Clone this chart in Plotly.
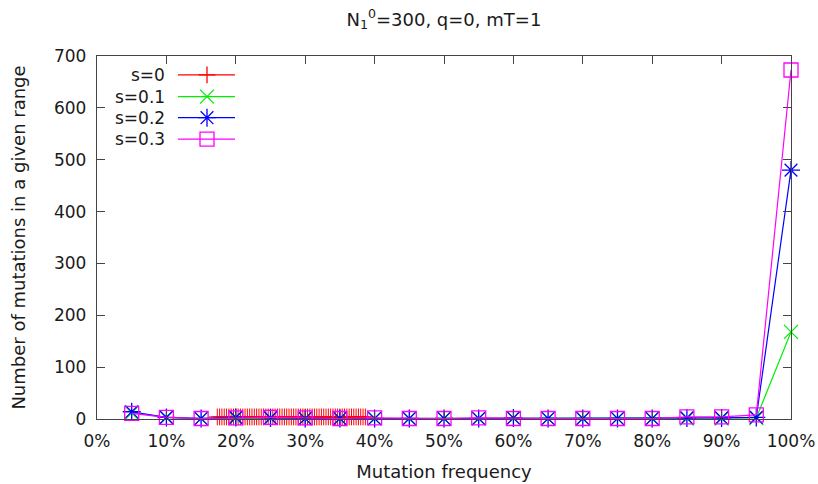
import plotly.graph_objects as go

# Mutation-frequency bins (percent) for the s>0 runs
freq_bins = [5, 10, 15, 20, 25, 30, 35, 40, 45, 50, 55, 60, 65, 70, 75, 80, 85, 90, 95, 100]

counts_s01 = [12, 3, 1, 2, 2, 1, 1, 1, 1, 1, 1, 2, 1, 1, 1, 1, 1, 1, 2, 168]
counts_s02 = [14, 3, 1, 3, 2, 1, 1, 1, 1, 1, 1, 2, 1, 1, 1, 1, 2, 2, 3, 480]
counts_s03 = [11, 3, 1, 2, 3, 2, 1, 2, 1, 1, 2, 1, 1, 1, 1, 1, 4, 4, 8, 673]

# s=0 run: allele copy numbers (out of N=300) and counts
N_POP = 300
copies_s0 = [52, 53, 54, 55, 56, 57, 58, 59, 60, 61, 62, 63, 64, 65, 66, 67, 68, 69,
             70, 71, 72, 73, 74, 75, 76, 77, 78, 79, 80, 81, 82, 83, 84, 85, 86, 87,
             88, 89, 90, 91, 92, 93, 94, 95, 96, 97, 98, 99, 100, 101, 102, 103, 104,
             105, 106, 107, 108, 109, 110, 111, 112, 113, 114, 115, 116]
counts_s0 = [4] * len(copies_s0)

labels = ["s=0", "s=0.1", "s=0.2", "s=0.3"]
colors = ["#ff0000", "#00ee00", "#0000ff", "#ff00ff"]
symbols = ["cross-thin-open", "x-thin-open", "asterisk-open", "square-open"]
sizes = [12, 14, 15, 14]
marker_widths = [1.0, 1.3, 1.3, 1.3]

x_ticks = [0, 10, 20, 30, 40, 50, 60, 70, 80, 90, 100]
x_tick_text = ["0%", "10%", "20%", "30%", "40%", "50%", "60%", "70%", "80%", "90%", "100%"]
y_ticks = [0, 100, 200, 300, 400, 500, 600, 700]

FONT = "DejaVu Sans, sans-serif"
INK = "#1a1a1a"
FRAME = "#444444"
TICK_SIZE = 17
TITLE_SIZE = 18

series = [
    ([c / N_POP * 100 for c in copies_s0], counts_s0),
    (freq_bins, counts_s01),
    (freq_bins, counts_s02),
    (freq_bins, counts_s03),
]

fig = go.Figure()
for (xs, ys), name, col, sym, sz, mw in zip(series, labels, colors, symbols, sizes, marker_widths):
    fig.add_trace(go.Scatter(
        x=xs, y=ys, name=name, mode="lines+markers", cliponaxis=False,
        line=dict(color=col, width=1.2),
        marker=dict(symbol=sym, size=sz, color=col, line=dict(color=col, width=mw)),
        showlegend=False,
    ))

# Key: label text right-aligned, then a sample line with the marker in its middle
key_rows = [0.948, 0.888, 0.830, 0.771]
key_x0, key_xm, key_x1, key_text_x = 0.1167, 0.1585, 0.1988, 0.1009
shapes = []
annotations = []
for row, name, col in zip(key_rows, labels, colors):
    shapes.append(dict(type="line", xref="paper", yref="paper",
                       x0=key_x0, x1=key_x1, y0=row, y1=row,
                       line=dict(color=col, width=1.2)))
    annotations.append(dict(xref="paper", yref="paper", x=key_text_x, y=row,
                            text=name, showarrow=False, xanchor="right", yanchor="middle",
                            font=dict(family=FONT, size=TICK_SIZE, color=INK)))
for row, col, sym, sz in zip(key_rows, colors, symbols, sizes):
    fig.add_trace(go.Scatter(
        x=[key_xm], y=[row], xaxis="x2", yaxis="y2", mode="markers",
        marker=dict(symbol=sym, size=sz, color=col, line=dict(color=col, width=1.3)),
        showlegend=False, hoverinfo="skip",
    ))

axis_common = dict(
    showline=True, linecolor=FRAME, linewidth=1.3, mirror="ticks",
    ticks="inside", ticklen=8, tickwidth=1.2, tickcolor=FRAME,
    showgrid=False, zeroline=False, automargin=False,
    tickfont=dict(family=FONT, size=TICK_SIZE, color=INK),
)

fig.update_layout(
    width=818, height=484,
    margin=dict(l=97, r=27, t=56, b=65),
    paper_bgcolor="white", plot_bgcolor="white",
    title=dict(text="N<sub>1</sub><sup>0</sup>=300, q=0, mT=1",
               x=0.5427, xanchor="center", y=0.960, yanchor="middle",
               font=dict(family=FONT, size=TITLE_SIZE, color=INK)),
    xaxis=dict(range=[0, 100], tickmode="array", tickvals=x_ticks, ticktext=x_tick_text,
               ticklabelstandoff=6,
               title=dict(text="Mutation frequency", standoff=15,
                          font=dict(family=FONT, size=TITLE_SIZE, color=INK)),
               **axis_common),
    yaxis=dict(range=[0, 700], tickvals=y_ticks, ticklabelstandoff=6,
               title=dict(text="Number of mutations in a given range", standoff=23,
                          font=dict(family=FONT, size=TITLE_SIZE, color=INK)),
               **axis_common),
    xaxis2=dict(overlaying="x", range=[0, 1], visible=False),
    yaxis2=dict(overlaying="y", range=[0, 1], visible=False),
    shapes=shapes,
    annotations=annotations,
)

fig.write_html("out.html")
